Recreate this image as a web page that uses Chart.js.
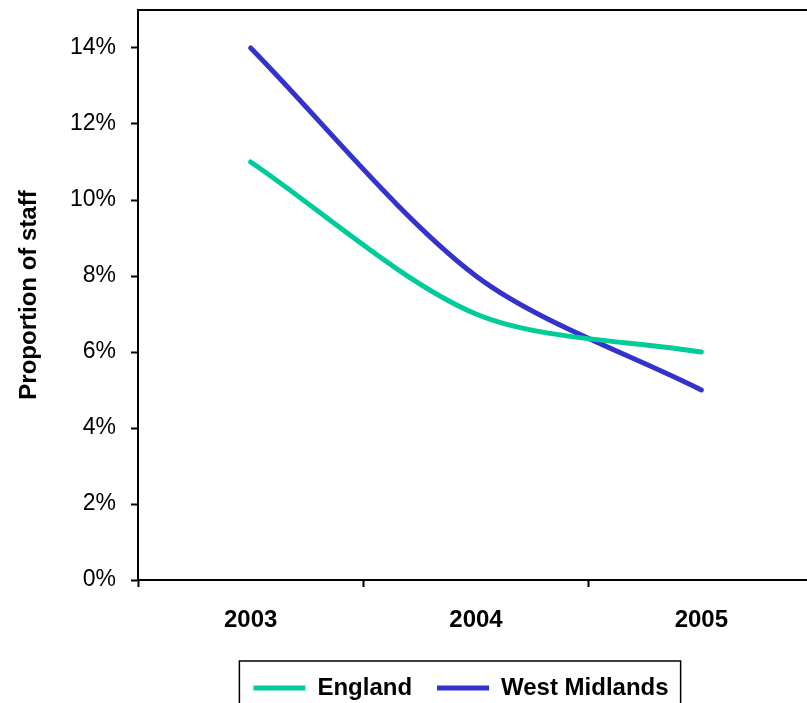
<!DOCTYPE html>
<html>
<head>
<meta charset="utf-8">
<script src="https://cdn.jsdelivr.net/npm/chart.js@4"></script>
<style>
    html, body { margin: 0; padding: 0; overflow: hidden; background: #fff; }
    #wrap { width: 922px; height: 730px; }
</style>
</head>
<body>
<div id="wrap"><canvas id="staffChart" width="922" height="730"></canvas></div>
<script>
// Chart data
const years = ["2003", "2004", "2005"];
const england = [11, 7, 6];
const westMidlands = [14, 8, 5];
const yTicks = [0, 2, 4, 6, 8, 10, 12, 14];

const FONT = "'Liberation Sans', Arial, sans-serif";

// Top frame line and the box round the legend
const framePlugin = {
    id: 'frame',
    afterDraw(chart) {
        const ctx = chart.ctx;
        const a = chart.chartArea;
        ctx.save();
        ctx.strokeStyle = '#000';
        ctx.lineWidth = 2;
        ctx.beginPath();
        ctx.moveTo(a.left, a.top);
        ctx.lineTo(a.right, a.top);
        ctx.lineTo(a.right, a.bottom);
        ctx.stroke();

        let hb = chart.legend.legendHitBoxes;
        if (hb && hb.length) {
            let left = hb[0].left - 14;
            let last = hb[hb.length - 1];
            let right = last.left + last.width + 12;
            let top = hb[0].top - 15;
            ctx.lineWidth = 1.5;
            ctx.strokeRect(left, top, right - left, 80);
        }
        ctx.restore();
    }
};

let ctx = document.getElementById('staffChart').getContext('2d');
new Chart(ctx, {
    type: 'line',
    data: {
        labels: years,
        datasets: [{
            label: "England",
            data: england,
            borderColor: '#00CC99',
            backgroundColor: '#00CC99',
            borderWidth: 5,
            borderCapStyle: 'round',
            pointRadius: 0,
            tension: 0.3
        }, {
            label: "West Midlands",
            data: westMidlands,
            borderColor: '#3333CC',
            backgroundColor: '#3333CC',
            borderWidth: 5,
            borderCapStyle: 'round',
            pointRadius: 0,
            tension: 0.3
        }]
    },
    options: {
        responsive: false,
        animation: false,
        devicePixelRatio: 1,
        layout: { padding: { top: 10, left: 0, right: 0, bottom: 20 } },
        plugins: {
            tooltip: { enabled: false },
            legend: {
                position: 'bottom',
                labels: {
                    color: '#000',
                    font: { family: FONT, size: 24, weight: 'bold' },
                    boxWidth: 52,
                    boxHeight: 5,
                    padding: 25,
                    generateLabels(chart) {
                        let items = Chart.defaults.plugins.legend.labels.generateLabels(chart);
                        items.forEach(i => { i.lineWidth = 0; });
                        return items;
                    }
                }
            }
        },
        scales: {
            x: {
                offset: true,
                grid: {
                    offset: true,
                    drawOnChartArea: false,
                    drawTicks: true,
                    tickLength: 7,
                    tickColor: '#000',
                    tickWidth: 2
                },
                border: { color: '#000', width: 2 },
                ticks: {
                    color: '#000',
                    padding: 19,
                    font: { family: FONT, size: 24, weight: 'bold' }
                },
                afterFit(scale) {
                    scale.height = 71;
                    scale.paddingLeft = 0;
                    scale.paddingRight = 0;
                }
            },
            y: {
                min: 0,
                max: 15,
                afterBuildTicks(scale) {
                    scale.ticks = yTicks.map(v => ({ value: v }));
                },
                grid: {
                    drawOnChartArea: false,
                    drawTicks: true,
                    tickLength: 7,
                    tickColor: '#000',
                    tickWidth: 2
                },
                border: { color: '#000', width: 2 },
                ticks: {
                    color: '#000',
                    padding: 15,
                    font: { family: FONT, size: 23 },
                    callback: v => v + '%'
                },
                title: {
                    display: true,
                    text: 'Proportion of staff',
                    color: '#000',
                    padding: { top: 15, bottom: 0 },
                    font: { family: FONT, size: 24, weight: 'bold' }
                },
                afterFit(scale) {
                    scale.width = 138;
                    scale.paddingTop = 0;
                    scale.paddingBottom = 0;
                }
            },
            y2: {
                position: 'right',
                grid: { display: false },
                border: { display: false },
                ticks: { display: false },
                afterFit(scale) {
                    scale.width = 108;
                    scale.paddingTop = 0;
                    scale.paddingBottom = 0;
                }
            }
        }
    },
    plugins: [framePlugin]
});
</script>
</body>
</html>
